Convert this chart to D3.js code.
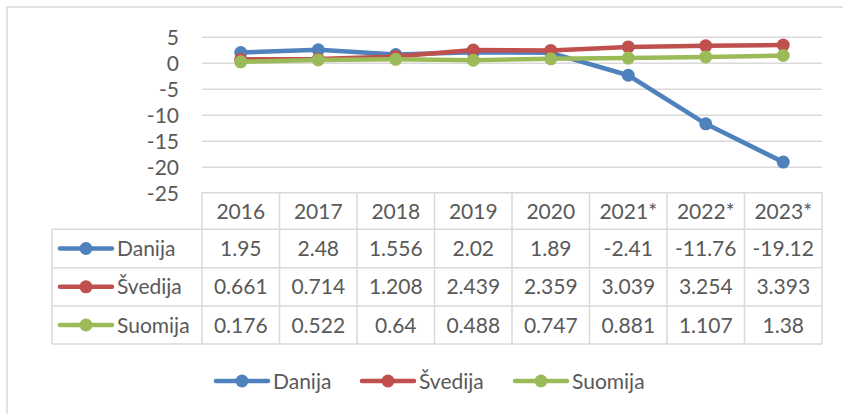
<!DOCTYPE html>
<html>
<head>
<meta charset="utf-8">
<script src="https://cdn.jsdelivr.net/npm/d3@7"></script>
<style>
  html, body { margin: 0; padding: 0; background: #fff; }
  svg { display: block; }
  text { font-family: Lato, "Open Sans", sans-serif; fill: #595959; }
</style>
</head>
<body>
<svg id="chart" width="843" height="414"></svg>
<script>
// Years shown along the category axis / data table header
const years = ["2016", "2017", "2018", "2019", "2020", "2021*", "2022*", "2023*"];
// Series names
const seriesNames = ["Danija", "Švedija", "Suomija"];
// Series values per year
const danija  = [1.95, 2.48, 1.556, 2.02, 1.89, -2.41, -11.76, -19.12];
const svedija = [0.661, 0.714, 1.208, 2.439, 2.359, 3.039, 3.254, 3.393];
const suomija = [0.176, 0.522, 0.64, 0.488, 0.747, 0.881, 1.107, 1.38];
// Value axis ticks
const yTicks = [5, 0, -5, -10, -15, -20, -25];

const colors = ["#4F81BD", "#C0504D", "#9BBB59"];
const series = [danija, svedija, suomija].map((values, i) => ({
  name: seriesNames[i], values, color: colors[i]
}));

const svg = d3.select("#chart");
const FONT = 21;

// outer chart frame
svg.append("rect")
  .attr("x", 7).attr("y", 7).attr("width", 900).attr("height", 500)
  .attr("fill", "#fff").attr("stroke", "#D9D9D9").attr("stroke-width", 1.5);

const plot = { left: 202, right: 822, top: 36.7, bottom: 192.7 };

const x = d3.scaleBand().domain(years).range([plot.left, plot.right]);
const y = d3.scaleLinear().domain([-25, 5]).range([plot.bottom, plot.top]);

// horizontal gridlines
const grid = svg.append("g")
  .attr("transform", `translate(${plot.left},0)`)
  .call(d3.axisLeft(y).tickValues(yTicks.filter(t => t !== -25))
    .tickSize(-(plot.right - plot.left)).tickFormat(""));
grid.select(".domain").remove();
grid.selectAll(".tick line").attr("stroke", "#D9D9D9").attr("stroke-width", 1.5);

// value axis labels
const yAxis = svg.append("g")
  .attr("transform", `translate(${plot.left - 23},0)`)
  .call(d3.axisLeft(y).tickValues(yTicks).tickSize(0).tickPadding(0)
    .tickFormat(d => String(d)));
yAxis.select(".domain").remove();
yAxis.selectAll("text")
  .style("font-family", "Lato, sans-serif").style("font-size", FONT + "px")
  .attr("fill", "#595959").attr("dy", "0.36em");

// data table
const tableLeft = 52;
const rowEdges = [192.7, 229.3, 267.7, 306, 344];
const tbl = svg.append("g");
const lineAttr = s => s.attr("stroke", "#D9D9D9").attr("stroke-width", 1.5);

// horizontal rules
rowEdges.forEach((ry, i) => {
  tbl.append("line")
    .attr("x1", i === 0 ? plot.left : tableLeft).attr("x2", plot.right)
    .attr("y1", ry).attr("y2", ry).call(lineAttr);
});
// vertical rules
tbl.append("line").attr("x1", tableLeft).attr("x2", tableLeft)
  .attr("y1", rowEdges[1]).attr("y2", rowEdges[4]).call(lineAttr);
years.forEach(yr => {
  tbl.append("line").attr("x1", x(yr)).attr("x2", x(yr))
    .attr("y1", rowEdges[0]).attr("y2", rowEdges[4]).call(lineAttr);
});
tbl.append("line").attr("x1", plot.right).attr("x2", plot.right)
  .attr("y1", rowEdges[0]).attr("y2", rowEdges[4]).call(lineAttr);

// header row
years.forEach(yr => {
  tbl.append("text")
    .attr("x", x(yr) + x.bandwidth() / 2)
    .attr("y", (rowEdges[0] + rowEdges[1]) / 2)
    .attr("dy", "0.36em").attr("text-anchor", "middle")
    .style("font-size", FONT + "px").text(yr);
});

// legend key: line with a marker
function legendKey(g, cx, cy, color) {
  g.append("line").attr("x1", cx - 26).attr("x2", cx + 26)
    .attr("y1", cy).attr("y2", cy)
    .attr("stroke", color).attr("stroke-width", 4.5).attr("stroke-linecap", "round");
  g.append("circle").attr("cx", cx).attr("cy", cy).attr("r", 6.5).attr("fill", color);
}

series.forEach((s, i) => {
  const cy = (rowEdges[i + 1] + rowEdges[i + 2]) / 2;
  legendKey(tbl, 86, cy, s.color);
  tbl.append("text").attr("x", 117).attr("y", cy).attr("dy", "0.36em")
    .style("font-size", FONT + "px").text(s.name);
  s.values.forEach((v, j) => {
    tbl.append("text")
      .attr("x", x(years[j]) + x.bandwidth() / 2).attr("y", cy)
      .attr("dy", "0.36em").attr("text-anchor", "middle")
      .style("font-size", FONT + "px").text(String(v));
  });
});

// lines and markers
const line = d3.line()
  .x((d, j) => x(years[j]) + x.bandwidth() / 2)
  .y(d => y(d));

series.forEach(s => {
  const g = svg.append("g");
  g.append("path").datum(s.values)
    .attr("d", line).attr("fill", "none")
    .attr("stroke", s.color).attr("stroke-width", 4.5)
    .attr("stroke-linejoin", "round").attr("stroke-linecap", "round");
  g.selectAll("circle").data(s.values).join("circle")
    .attr("cx", (d, j) => x(years[j]) + x.bandwidth() / 2)
    .attr("cy", d => y(d)).attr("r", 6.5).attr("fill", s.color);
});

// bottom legend
const legendY = 381;
const legendPos = [242, 388, 541];
series.forEach((s, i) => {
  const g = svg.append("g");
  legendKey(g, legendPos[i], legendY, s.color);
  g.append("text").attr("x", legendPos[i] + 31).attr("y", legendY).attr("dy", "0.36em")
    .style("font-size", FONT + "px").text(s.name);
});
</script>
</body>
</html>
